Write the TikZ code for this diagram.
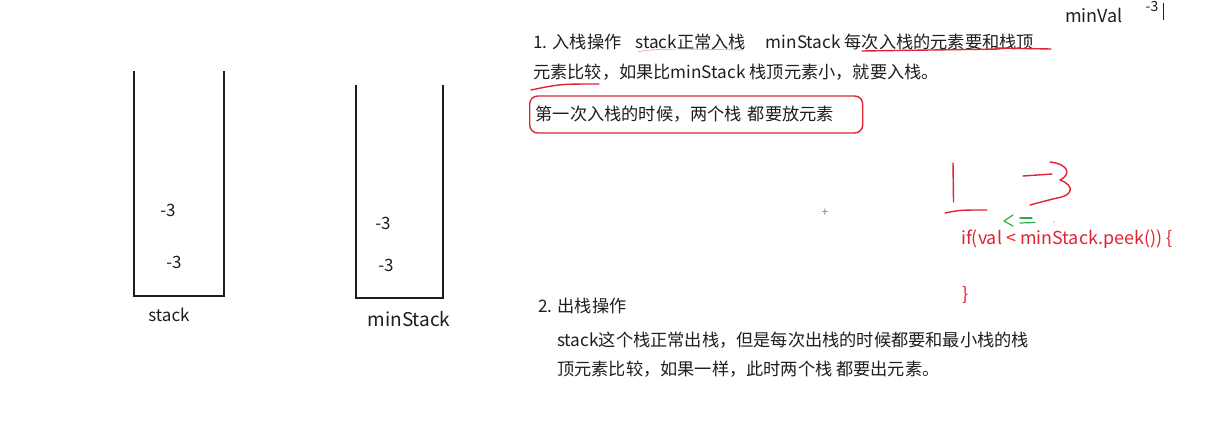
\documentclass[tikz,border=0pt]{standalone}
\usepackage{fontspec}
\setmainfont{Noto Sans CJK SC}
\definecolor{ink}{RGB}{30,30,30}
\definecolor{note}{RGB}{222,36,52}
\definecolor{chalk}{RGB}{40,175,70}
\begin{document}
\begin{tikzpicture}[x=1pt,y=-1pt,
  wall/.style={draw=ink,line width=1.6pt},
  txt/.style={anchor=west,inner sep=0pt,font=\fontsize{17.2}{20}\selectfont,text=ink},
  val/.style={inner sep=0pt,font=\fontsize{17}{20}\selectfont,text=ink},
  code/.style={txt,text=note,font=\fontsize{17.9}{20}\selectfont},
  pen/.style={draw=note,line width=1.4pt,line cap=round,line join=round},
  green/.style={pen,draw=chalk,line width=1.2pt},
  tagbox/.style={txt,draw=note,line width=1.4pt,rounded corners=8pt,
    text width=321pt,inner xsep=6pt,inner ysep=0pt,minimum height=37pt,align=left}]
\useasboundingbox (0,0) rectangle (1217,420);
\draw[wall] (134,71) |- (224,296) -- (224,71);
\draw[wall] (356,85) |- (443,298) -- (443,85);
\node[val] (s1) at (168,210) {-3};
\node[val] (s2) at (174,262) {-3};
\node[val] (m1) at (383,223) {-3};
\node[val] (m2) at (386,265) {-3};
\node[val] (stacklbl) at (169,315) {stack};
\node[val,font=\fontsize{19}{22}\selectfont] (minlbl) at (409,319) {minStack};
\node[txt] (push) at (533,42) {1. 入栈操作\hspace*{14pt}stack正常入栈\hspace*{20pt}minStack 每次入栈的元素要和栈顶};
\node[txt] (push2) at (533,72) {元素比较，如果比minStack 栈顶元素小，就要入栈。};
\node[tagbox] (first) at (529,114.5) {第一次入栈的时候，两个栈 都要放元素};
\draw[pen,line width=0.7pt,note!45] (638,52) .. controls (650,48) and (690,49) .. (743,50);
\draw[pen] (862,51) -- (1000,49);
\draw[pen] (995,48) -- (1051,49);
\draw[pen] (531,90) .. controls (560,84) .. (599,84);
\node[text=gray,font=\fontsize{12}{12}\selectfont,inner sep=0pt] (cursor) at (825,213) {+};
\draw[pen] (953,163) -- (953.5,202);
\draw[pen] (945,213) .. controls (960,210) .. (987,210);
\draw[pen] (1023,176) -- (1052,174);
\draw[pen] (1050,162) .. controls (1068,164) and (1072,174) .. (1060,180)
  .. controls (1076,186) and (1072,196) .. (1057,198) .. controls (1045,201) .. (1030,205);
\draw[green] (1013,215) -- (1004,221) -- (1013,226);
\draw[green] (1020,218) -- (1032,218);
\draw[green] (1020,223) -- (1035,222.5);
\fill[chalk] (1054,222) circle (0.7pt);
\node[code] (cond) at (961,239) {if(val < minStack.peek()) \{};
\node[code] (close) at (962,295) {\}};
\node[txt] (pop) at (538,306) {2. 出栈操作};
\node[txt] (pop1) at (557,340) {stack这个栈正常出栈，但是每次出栈的时候都要和最小栈的栈};
\node[txt] (pop2) at (557,369) {顶元素比较，如果一样，此时两个栈 都要出元素。};
\node[val,font=\fontsize{18}{20}\selectfont] (minval) at (1094,15) {minVal};
\node[val,font=\fontsize{14}{16}\selectfont] (minv) at (1152,7) {-3};
\draw[ink,line width=0.8pt] (1163,3) -- (1163,20);
\end{tikzpicture}
\end{document}
